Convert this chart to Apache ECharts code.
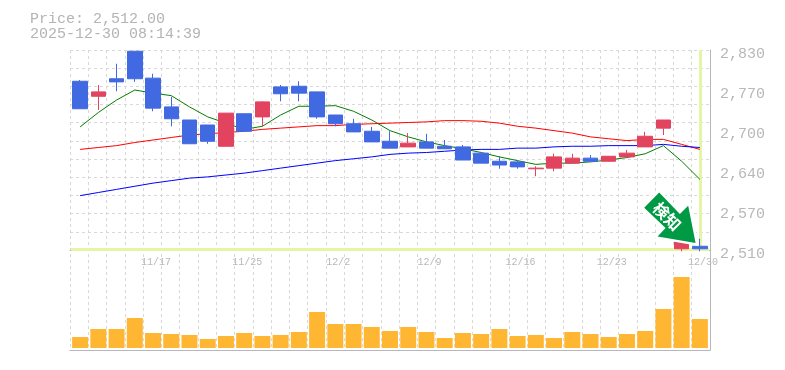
<!DOCTYPE html>
<html><head><meta charset="utf-8">
<style>html,body{margin:0;padding:0;background:#fff}#c{width:785px;height:370px}</style>
<script src="https://cdn.jsdelivr.net/npm/echarts@6/dist/echarts.min.js"></script>
</head><body><div id="c"></div>
<script>
const categories=['11/11','11/12','11/13','11/14','11/17','11/18','11/19','11/20','11/21','11/25','11/26','11/27','11/28','12/1','12/2','12/3','12/4','12/5','12/8','12/9','12/10','12/11','12/12','12/15','12/16','12/17','12/18','12/19','12/22','12/23','12/24','12/25','12/26','12/29','12/30'];
// open, close, low, high
const ohlc=[[2780,2736,2736,2782],[2756,2763,2734,2774],[2784,2779,2764,2808],[2828,2784,2779,2828],[2785,2737,2732,2792],[2739,2720,2708,2755],[2718,2680,2680,2718],[2710,2684,2680,2710],[2676,2729,2676,2729],[2728,2700,2699,2728],[2723,2747,2708,2748],[2771,2760,2748,2774],[2772,2761,2748,2780],[2763,2723,2720,2763],[2726,2712,2708,2726],[2712,2699,2699,2720],[2700,2683,2683,2707],[2684,2673,2673,2700],[2675,2681,2675,2697],[2683,2673,2673,2696],[2676,2672,2672,2686],[2675,2654,2654,2678],[2665,2649,2649,2667],[2652,2646,2640,2660],[2651,2643,2640,2654],[2640,2641,2628,2644],[2641,2659,2636,2664],[2649,2657,2649,2664],[2657,2652,2652,2662],[2652,2660,2651,2660],[2659,2665,2657,2670],[2675,2692,2675,2699],[2705,2718,2694,2718],[2512,2524,2508,2524],[2516,2512,2508,2528]];
const maGreen=[2707,2730,2750,2766,2761,2757,2739,2723,2713,2703,2708,2726,2740,2740,2741,2732,2718,2701,2691,2683,2677,2672,2666,2659,2653,2647,2649,2649,2651,2654,2658,2664,2677,2652,2623];
const maRed=[2671,2674,2677,2682,2686,2690,2694,2696,2698,2700,2703,2705,2707,2709,2709,2711,2712,2713,2714,2715,2717,2717,2716,2713,2708,2705,2701,2697,2691,2688,2685,2687,2687,2679,2671];
const maBlue=[2597,2602,2607,2612,2617,2621,2625,2627,2630,2633,2637,2641,2645,2649,2653,2656,2659,2663,2665,2666,2668,2670,2671,2671,2673,2673,2675,2676,2676,2677,2677,2677,2679,2676,2674];
const volume=[11000,19000,19000,30000,15000,14000,13000,9000,12000,15000,12000,13000,16000,36000,24000,24000,21000,17000,21000,16000,10000,15000,14000,19000,12000,13000,10000,16000,14000,11000,14000,17000,39000,71000,29000];
const priceTicks=[2510,2574,2638,2702,2766,2830];
const lastPrice=2512;
const titleText='Price: 2,512.00\n2025-12-30 08:14:39';
const arrowText='検知';

const GRAY='#b8b8b8',DASH='#d8d8d8',LIME='#e4f5a5',MONO='"Liberation Mono",monospace';
const fmtPrice=v=>{const r=Math.round(v/10)*10;return String(r).replace(/\B(?=(\d{3})+$)/,',')};
const dashLine={show:true,lineStyle:{color:DASH,width:1,type:[3,3]}};
const off={show:false};
const arrowPath='path://M15,0 L0,15.3 L21.4,35.6 L13.4,44 L51.4,50.6 L44,13.3 L35.7,21.6 Z';
const chart=echarts.init(document.getElementById('c'),null,{renderer:'canvas'});
chart.setOption({
  animation:false,
  backgroundColor:'#fff',
  title:{text:titleText,left:30,top:12,padding:0,textStyle:{fontFamily:MONO,fontSize:15,fontWeight:'normal',color:'#b4b4b4',lineHeight:15}},
  grid:[
    {left:70,width:640,top:50,height:300},
    {left:70,width:640,top:50,height:200},
    {left:71,width:638,top:50,height:200},
    {left:71,width:638,top:250,height:98}
  ],
  xAxis:[
    {gridIndex:0,type:'category',data:categories,axisLine:{show:true,lineStyle:{color:GRAY}},axisTick:off,axisLabel:off,splitLine:{...dashLine,interval:0}},
    {gridIndex:1,type:'category',data:categories,axisLine:{show:true,lineStyle:{color:GRAY}},axisTick:off,axisLabel:off,splitLine:off},
    {gridIndex:2,type:'category',data:categories,axisLine:off,axisTick:off,splitLine:off,
      axisLabel:{show:true,interval:(i)=>i%5===4,margin:7,color:GRAY,fontFamily:MONO,fontSize:10,padding:[0,0,0,6],hideOverlap:false}},
    {gridIndex:3,type:'category',data:categories,axisLine:off,axisTick:off,axisLabel:off,splitLine:off}
  ],
  yAxis:[
    {gridIndex:0,type:'value',min:0,max:1,position:'right',axisLine:{show:true,lineStyle:{color:GRAY}},axisTick:off,axisLabel:off,splitLine:off},
    {gridIndex:1,type:'value',min:0,max:11,interval:1,axisLine:off,axisTick:off,axisLabel:off,splitLine:dashLine},
    {gridIndex:2,type:'value',position:'right',min:2510,max:2830,axisLine:off,axisTick:off,splitLine:off,
      axisLabel:{show:true,customValues:priceTicks,formatter:fmtPrice,margin:11,color:GRAY,fontFamily:MONO,fontSize:15,verticalAlign:'top',lineHeight:8}},
    {gridIndex:3,type:'value',min:0,max:98000,axisLine:off,axisTick:off,axisLabel:off,splitLine:off}
  ],
  series:[
    {type:'line',name:'MA green',xAxisIndex:2,yAxisIndex:2,data:maGreen,symbol:'none',z:2,silent:true,lineStyle:{color:'#008000',width:1},
      markLine:{silent:true,z:1,symbol:'none',label:off,lineStyle:{color:LIME,width:3,type:'solid'},animation:false,
        data:[{yAxis:lastPrice},{xAxis:categories[categories.length-1]}]}},
    {type:'line',name:'MA red',xAxisIndex:2,yAxisIndex:2,data:maRed,symbol:'none',z:2,silent:true,lineStyle:{color:'#ff0000',width:1}},
    {type:'line',name:'MA blue',xAxisIndex:2,yAxisIndex:2,data:maBlue,symbol:'none',z:2,silent:true,lineStyle:{color:'#0000ff',width:1}},
    {type:'candlestick',xAxisIndex:2,yAxisIndex:2,data:ohlc,barWidth:15,clip:false,z:3,
      itemStyle:{color:'#e2435f',color0:'#4169e1',borderColor:'#e2435f',borderColor0:'#4169e1',borderWidth:1},
      markPoint:{silent:true,z:5,animation:false,
        data:[
         {coord:[categories[categories.length-1],lastPrice],symbol:arrowPath,symbolSize:[51.4,50.6],symbolOffset:[-30,-31],
          itemStyle:{color:'#fff',borderColor:'#fff',borderWidth:5},label:off},
         {coord:[categories[categories.length-1],lastPrice],symbol:arrowPath,symbolSize:[51.4,50.6],symbolOffset:[-30,-31],
          itemStyle:{color:'#009944'},
          label:{show:true,formatter:arrowText,position:'inside',rotate:-45,offset:[-3,1],color:'#fff',fontWeight:'bold',fontSize:16,fontFamily:'"Noto Sans CJK JP"'}}]}},
    {type:'bar',xAxisIndex:3,yAxisIndex:3,data:volume,barWidth:16,z:2,itemStyle:{color:'#ffb733'}}
  ]
});
</script></body></html>
